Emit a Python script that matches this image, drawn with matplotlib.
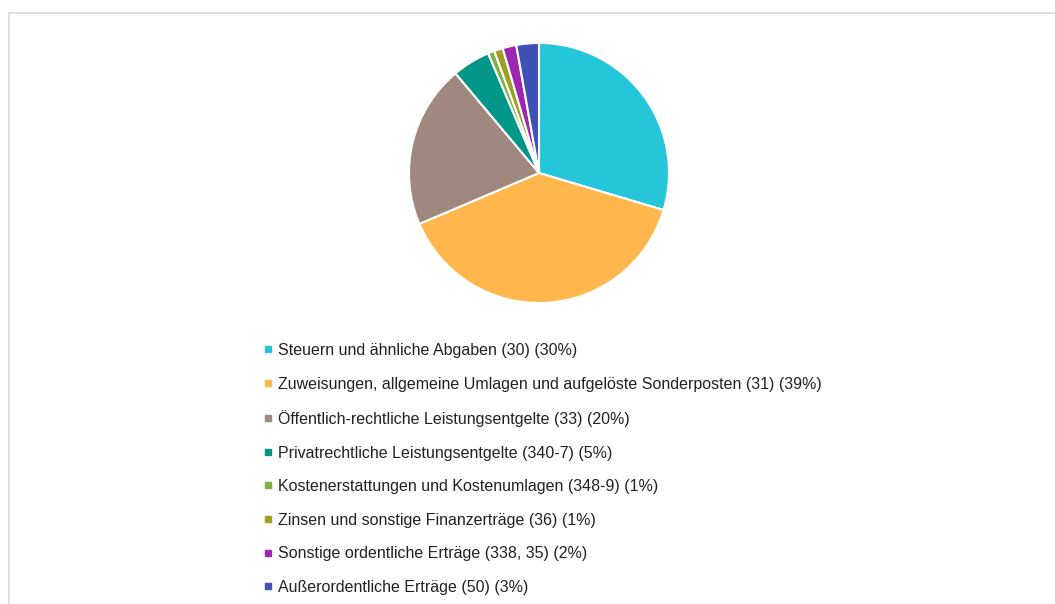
import matplotlib.pyplot as plt
from matplotlib.lines import Line2D
from matplotlib.patches import Rectangle

labels = [
    'Steuern und ähnliche Abgaben (30) (30%)',
    'Zuweisungen, allgemeine Umlagen und aufgelöste Sonderposten (31) (39%)',
    'Öffentlich-rechtliche Leistungsentgelte (33) (20%)',
    'Privatrechtliche Leistungsentgelte (340-7) (5%)',
    'Kostenerstattungen und Kostenumlagen (348-9) (1%)',
    'Zinsen und sonstige Finanzerträge (36) (1%)',
    'Sonstige ordentliche Erträge (338, 35) (2%)',
    'Außerordentliche Erträge (50) (3%)',
]
shares = [29.6, 39.0, 20.3, 4.7, 0.8, 1.1, 1.7, 2.8]
colors = ['#26C6DA', '#FFB74D', '#A1887F', '#009688',
          '#7CB342', '#9E9D24', '#9C27B0', '#3F51B5']

W, H = 1055, 604
fig = plt.figure(figsize=(W / 100, H / 100), dpi=100)
plt.rcParams['font.family'] = ['Liberation Sans', 'DejaVu Sans']

# outer frame
fig.patches.append(Rectangle((9 / W, -0.1), 1.2, 1 - 13 / H + 0.1,
                             transform=fig.transFigure, fill=False,
                             edgecolor='#d9d9d9', linewidth=1.2))

# pie
cx, cy, r = 539, 173, 130
ax = fig.add_axes([(cx - r) / W, 1 - (cy + r) / H, 2 * r / W, 2 * r / H])
ax.pie(shares, colors=colors, startangle=90, counterclock=False, radius=1,
       wedgeprops=dict(edgecolor='white', linewidth=1.5))
ax.set_xlim(-1, 1)
ax.set_ylim(-1, 1)
ax.set_aspect('auto')
ax.axis('off')

# legend
handles = [Line2D([], [], marker='s', linestyle='none', markersize=4.3,
                  markerfacecolor=c, markeredgecolor=c) for c in colors]
fig.legend(handles, labels, loc='upper left',
           bbox_to_anchor=(264 / W, 1 - 343 / H), frameon=False,
           fontsize=11.5, handlelength=0.45, handletextpad=0.4,
           labelspacing=1.16, borderpad=0, borderaxespad=0,
           labelcolor='#222222')

fig.savefig('out.png', dpi=100)
